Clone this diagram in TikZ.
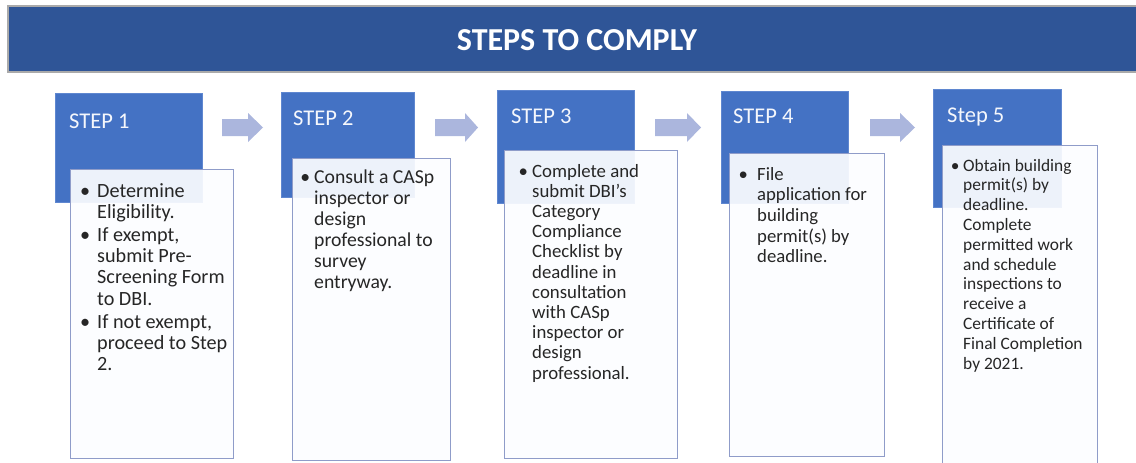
\documentclass[tikz,border=0pt]{standalone}
\usepackage{fontspec}
\setmainfont{Carlito}
\definecolor{hdrblue}{RGB}{47,85,151}
\definecolor{hdrline}{RGB}{170,170,170}
\definecolor{stepblue}{RGB}{68,114,196}
\definecolor{stepline}{RGB}{95,135,208}
\definecolor{cardline}{RGB}{143,156,201}
\definecolor{cardfill}{RGB}{252,253,255}
\definecolor{arrowfill}{RGB}{171,182,221}
\definecolor{bodytext}{RGB}{38,38,38}
\definecolor{headtext}{RGB}{245,247,252}

% bullet centred on the current point, followed by a gap of #1
\newcommand\bul[1]{\makebox[#1][l]{\makebox[0pt]{\textbullet}}}
% one bulleted paragraph with hanging indent #1 (lines split by \newline)
\newcommand\itm[2]{\hangindent=#1\hangafter=1\bul{#1}#2\par}
% card text: font size, line pitch, then the items
\newcommand\cardbody[3]{%
  \begin{minipage}[t]{170pt}\fontsize{#1}{#2}\selectfont
  \parindent=0pt\parskip=2pt #3\end{minipage}}
% right-pointing block arrow: shaft start, head start, tip
\newcommand\blockarrow[3]{%
  \fill[arrowfill] (#1,119) -- (#2,119) -- (#2,113) -- (#3,127.5)
    -- (#2,142) -- (#2,136) -- (#1,136) -- cycle;}

\tikzset{
  header/.style={draw=hdrline, line width=2pt, fill=hdrblue, inner sep=0pt},
  stepbox/.style={draw=stepline, line width=0.8pt, fill=stepblue,
    anchor=north west, inner sep=0pt},
  steplabel/.style={anchor=base west, inner sep=0pt, text=headtext,
    font=\fontsize{22.5}{26}\selectfont},
  card/.style={draw=cardline, line width=1.2pt, fill=cardfill,
    fill opacity=0.92, anchor=north west, inner sep=0pt},
  cardtext/.style={anchor=base west, inner sep=0pt, text=bodytext},
}

\begin{document}
\begin{tikzpicture}[x=1pt, y=-1pt]
\useasboundingbox (0,0) rectangle (1136,463);

% title band
\node[header, minimum width=1132pt, minimum height=66pt] (title) at (574,39) {};
\node[text=white, font=\fontsize{32}{36}\selectfont\bfseries, inner sep=0pt]
  (titletext) at (577,40) {STEPS TO COMPLY};

% blue step tiles
\node[stepbox, minimum width=147pt, minimum height=109pt] (s1) at (55,93) {};
\node[stepbox, minimum width=133pt, minimum height=105pt] (s2) at (281,92) {};
\node[stepbox, minimum width=137pt, minimum height=113pt] (s3) at (497,90) {};
\node[stepbox, minimum width=127pt, minimum height=112pt] (s4) at (721,91) {};
\node[stepbox, minimum width=128pt, minimum height=118pt] (s5) at (933,89) {};

\node[steplabel] (h1) at (69,128) {STEP 1};
\node[steplabel] (h2) at (293,125) {STEP 2};
\node[steplabel] (h3) at (511,123) {STEP 3};
\node[steplabel] (h4) at (733,123) {STEP 4};
\node[steplabel] (h5) at (947,122) {Step 5};

% white cards
\node[card, minimum width=163pt, minimum height=289pt] (c1) at (70,169) {};
\node[card, minimum width=158pt, minimum height=302pt] (c2) at (292,158) {};
\node[card, minimum width=173pt, minimum height=308pt] (c3) at (504,150) {};
\node[card, minimum width=155pt, minimum height=303pt] (c4) at (729,153) {};
\node[card, minimum width=155pt, minimum height=330pt] (c5) at (942,145) {};

% card texts
\node[cardtext] (t1) at (85,197) {\cardbody{20.2}{21.2}{%
  \itm{12pt}{Determine\newline Eligibility.}
  \itm{12pt}{If exempt,\newline submit Pre-\newline Screening Form\newline to DBI.}
  \itm{12pt}{If not exempt,\newline proceed to Step\newline 2.}}};
\node[cardtext] (t2) at (305,183) {\cardbody{19.7}{21}{%
  \itm{9pt}{Consult a CASp\newline inspector or\newline design\newline professional to\newline survey\newline entryway.}}};
\node[cardtext] (t3) at (523,177) {\cardbody{18.8}{20.2}{%
  \itm{9pt}{Complete and\newline submit DBI’s\newline Category\newline Compliance\newline Checklist by\newline deadline in\newline consultation\newline with CASp\newline inspector or\newline design\newline professional.}}};
\node[cardtext] (t4) at (743,180) {\cardbody{18.7}{20.7}{%
  \itm{14pt}{File\newline application for\newline building\newline permit(s) by\newline deadline.}}};
\node[cardtext] (t5) at (955,171) {\cardbody{17.4}{19.8}{%
  \itm{8pt}{Obtain building\newline permit(s) by\newline deadline.\newline Complete\newline permitted work\newline and schedule\newline inspections to\newline receive a\newline Certificate of\newline Final Completion\newline by 2021.}}};

% arrows between the steps
\blockarrow{222}{248}{263}
\blockarrow{435}{465}{478}
\blockarrow{655}{687}{701}
\blockarrow{870}{900}{915}
\end{tikzpicture}
\end{document}
